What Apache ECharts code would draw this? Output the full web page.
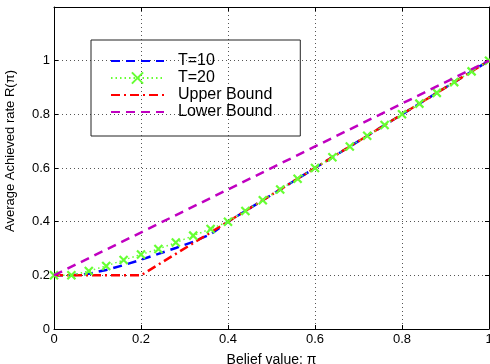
<!DOCTYPE html>
<html>
<head>
<meta charset="utf-8">
<script src="https://cdn.jsdelivr.net/npm/echarts@6/dist/echarts.min.js"></script>
<style>
  html, body {margin: 0; padding: 0; background: #fff;}
  #chart {width: 490px; height: 364px;}
</style>
</head>
<body>
<div id="chart"></div>
<script>
const xTicks = [0, 0.2, 0.4, 0.6, 0.8, 1]

const seriesNames = ['T=10', 'T=20', 'Upper Bound', 'Lower Bound']

const t10X = [0, 0.04, 0.08, 0.12, 0.16, 0.2, 0.24, 0.28, 0.32, 0.36, 0.4, 0.5, 0.6, 0.7, 0.8, 0.9, 1]
const t10Y = [0.2, 0.2, 0.206, 0.22, 0.238, 0.258, 0.28, 0.302, 0.325, 0.353, 0.4, 0.5, 0.6, 0.7, 0.8, 0.9, 1]

const t20X = [0, 0.04, 0.08, 0.12, 0.16, 0.2, 0.24, 0.28, 0.32, 0.36, 0.4, 0.44, 0.48, 0.52,
  0.56, 0.6, 0.64, 0.68, 0.72, 0.76, 0.8, 0.84, 0.88, 0.92, 0.96, 1]
const t20Y = [0.2, 0.2, 0.216, 0.235, 0.257, 0.278, 0.298, 0.322, 0.348, 0.373, 0.4, 0.44, 0.48, 0.52,
  0.56, 0.6, 0.64, 0.68, 0.72, 0.76, 0.8, 0.84, 0.88, 0.92, 0.96, 1]

const upperX = [0, 0.2, 1]
const upperY = [0.2, 0.2, 1]

const lowerX = [0, 1]
const lowerY = [0.2, 1]

const font = 'Liberation Sans, Arial, sans-serif'
const pairs = (xs, ys) => xs.map((x, i) => [x, ys[i]])

const chart = echarts.init(document.getElementById('chart'))

const gridLine = {show: true, lineStyle: {color: '#555', width: 1, type: [1, 3]}}
const tick = {show: true, inside: true, length: 4, lineStyle: {color: '#000'}}
const axLine = {show: true, onZero: false, lineStyle: {color: '#000', width: 1}}
// hide the circle that the legend puts on lines without symbols
const noMark = {color: 'transparent', borderColor: 'transparent', borderWidth: 0}

chart.setOption({
  animation: false,
  textStyle: {fontFamily: font},
  grid: {left: 54, right: 1, top: 7, bottom: 35, outerBoundsMode: 'none', containLabel: false},
  xAxis: [{
    type: 'value', min: 0, max: 1, interval: 0.2,
    axisLine: axLine, axisTick: tick, splitLine: gridLine,
    axisLabel: {color: '#000', fontSize: 13, margin: 4, fontFamily: font},
    name: 'Belief value: π', nameLocation: 'middle', nameGap: 24,
    nameTextStyle: {color: '#000', fontSize: 14, fontFamily: font}
  }, {
    type: 'value', position: 'top', min: 0, max: 1, interval: 0.2,
    axisLine: axLine, axisTick: tick, axisLabel: {show: false}, splitLine: {show: false}
  }],
  yAxis: [{
    type: 'value', min: 0, max: 1.2, interval: 0.2,
    axisLine: axLine, axisTick: tick, splitLine: gridLine,
    axisLabel: {
      color: '#000', fontSize: 13, margin: 4, fontFamily: font,
      formatter: v => v > 1.01 ? '' : String(Math.round(v * 10) / 10)
    },
    name: 'Average Achieved rate R(π)', nameLocation: 'middle', nameGap: 37,
    nameTextStyle: {color: '#000', fontSize: 13, fontFamily: font, padding: [0, 0, 0, 34]}
  }, {
    type: 'value', position: 'right', min: 0, max: 1.2, interval: 0.2,
    axisLine: axLine, axisTick: tick, axisLabel: {show: false}, splitLine: {show: false}
  }],
  legend: {
    orient: 'vertical', left: 91, top: 40,
    borderColor: '#222', borderWidth: 1,
    padding: [13, 28, 16, 19],
    itemWidth: 53, itemHeight: 14, itemGap: 1,
    textStyle: {color: '#000', fontSize: 16, fontFamily: font, padding: [0, 0, 0, 9]},
    data: [
      {name: seriesNames[0], itemStyle: noMark},
      {name: seriesNames[1]},
      {name: seriesNames[2], itemStyle: noMark},
      {name: seriesNames[3], itemStyle: noMark}
    ]
  },
  series: [
    {
      name: 'T=10', type: 'line', data: pairs(t10X, t10Y),
      showSymbol: false, symbol: 'none', z: 2,
      lineStyle: {color: '#0000ff', width: 2.5, type: [9, 6]},
      itemStyle: {color: '#0000ff'}
    },
    {
      name: 'Upper Bound', type: 'line', data: pairs(upperX, upperY),
      showSymbol: false, symbol: 'none', z: 3,
      lineStyle: {color: '#ff0000', width: 2.5, type: [9, 4, 2, 4]},
      itemStyle: {color: '#ff0000'}
    },
    {
      name: 'T=20', type: 'line', data: pairs(t20X, t20Y),
      symbol: 'path://M0,0L10,10M10,0L0,10', symbolSize: 8, z: 4,
      lineStyle: {color: '#66ff33', width: 1.5, type: [1.5, 3]},
      itemStyle: {color: '#66ff33', borderColor: '#66ff33', borderWidth: 2.2}
    },
    {
      name: 'Lower Bound', type: 'line', data: pairs(lowerX, lowerY),
      showSymbol: false, symbol: 'none', z: 5,
      lineStyle: {color: '#c000c0', width: 2.5, type: [9, 6]},
      itemStyle: {color: '#c000c0'}
    }
  ]
})
</script>
</body>
</html>
